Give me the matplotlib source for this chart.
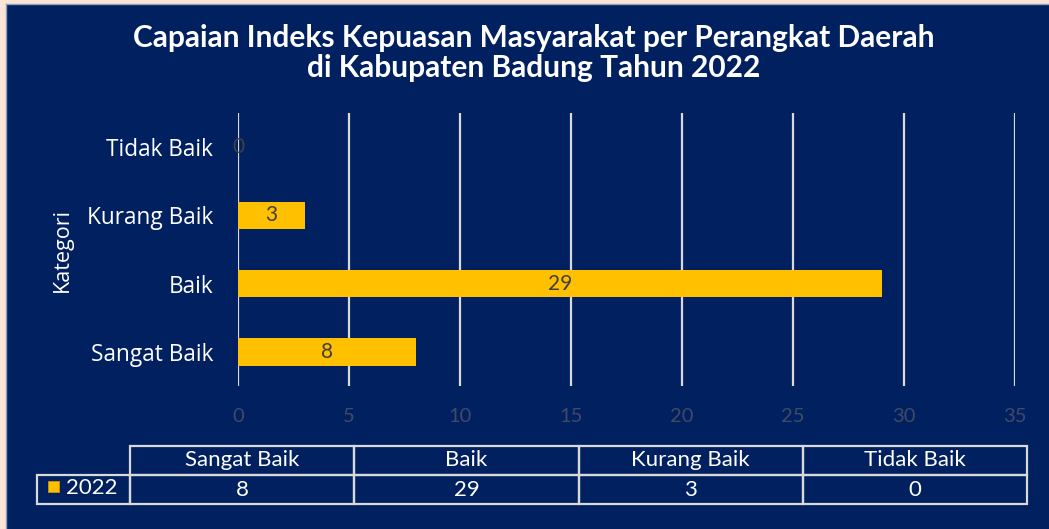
import matplotlib.pyplot as plt
from matplotlib.patches import Rectangle

# Data
categories = ['Sangat Baik', 'Baik', 'Kurang Baik', 'Tidak Baik']
values_2022 = [8, 29, 3, 0]
series_name = '2022'
x_ticks = [0, 5, 10, 15, 20, 25, 30, 35]

navy = '#002060'
gold = '#FFC000'
grid_col = '#D9D9D9'

W, H = 1049, 529
fig = plt.figure(figsize=(W / 100, H / 100), dpi=100)
fig.patch.set_facecolor('#FCE4D6')

# navy chart background with a thin grey border
bg = fig.add_axes([6 / W, 0, 1 - 6 / W, 1 - 4 / H])
bg.set_facecolor(navy)
bg.set_xticks([])
bg.set_yticks([])
for s in bg.spines.values():
    s.set_color('#8EA0BF')
    s.set_linewidth(1)
bg.spines['right'].set_visible(False)
bg.spines['bottom'].set_visible(False)

# Bar chart
ax = fig.add_axes([238 / W, (H - 386) / H, (1015 - 238) / W, (386 - 113) / H])
ax.set_facecolor('none')
ypos = list(range(len(categories)))
bars = ax.barh(ypos, values_2022, height=0.4, color=gold, linewidth=0, zorder=3)
ax.set_xlim(0, 35)
ax.set_ylim(-0.5, len(categories) - 0.5)
ax.set_xticks(x_ticks)
ax.set_yticks(ypos)
ax.set_yticklabels(categories, fontsize=16.3, color='white', family='Open Sans')
ax.set_xticklabels([str(t) for t in x_ticks], fontsize=14.5, color='#404A66',
                   family='Lato')
ax.tick_params(axis='both', length=0)
ax.tick_params(axis='x', pad=16)
ax.tick_params(axis='y', pad=18)
ax.grid(axis='x', color=grid_col, linewidth=1.6, zorder=1)
for s in ax.spines.values():
    s.set_visible(False)
ax.bar_label(bars, labels=[str(v) for v in values_2022], label_type='center',
             fontsize=15, color='#404040', family='Lato', zorder=4)
ax.set_ylabel('Kategori', fontsize=15.5, color='white', family='Open Sans')
ax.yaxis.set_label_coords(-(238 - 73) / (1015 - 238), 0.5)

# Title
title_kw = dict(ha='center', va='center', fontsize=21.5, color='white',
                family='Lato', fontweight='bold')
fig.text(534 / W, 1 - 38 / H,
         'Capaian Indeks Kepuasan Masyarakat per Perangkat Daerah', **title_kw)
fig.text(534 / W, 1 - 68 / H, 'di Kabupaten Badung Tahun 2022', **title_kw)

# Data table under the chart
tx0, tx1, ty0, ty1 = 37, 1027, 446, 504
tw = tx1 - tx0
tax = fig.add_axes([tx0 / W, (H - ty1) / H, tw / W, (ty1 - ty0) / H])
tax.axis('off')
label_w = 93
col_w = (tw - label_w) / len(categories)
widths = [label_w / tw] + [col_w / tw] * len(categories)
cell_text = [[''] + categories, [''] + [str(v) for v in values_2022]]
tbl = tax.table(cellText=cell_text, colWidths=widths, bbox=[0, 0, 1, 1],
                cellLoc='center')
tbl.auto_set_font_size(False)
for (r, c), cell in tbl.get_celld().items():
    cell.set_facecolor('none')
    cell.set_edgecolor(grid_col)
    cell.set_linewidth(1.6)
    cell.get_text().set_color('white')
    cell.get_text().set_fontsize(16)
    cell.get_text().set_family('Lato')
tbl[0, 0].visible_edges = ''
# legend key inside the row label cell
tax.add_patch(Rectangle((11 / tw, 0.2), 11 / tw, 0.19,
                        transform=tax.transAxes, facecolor=gold, edgecolor='#C89600',
                        linewidth=0.6))
tax.text(29 / tw, 0.28, series_name, transform=tax.transAxes,
         ha='left', va='center', fontsize=16, color='white', family='Lato')

fig.savefig('out.png', dpi=100, facecolor=fig.get_facecolor())
